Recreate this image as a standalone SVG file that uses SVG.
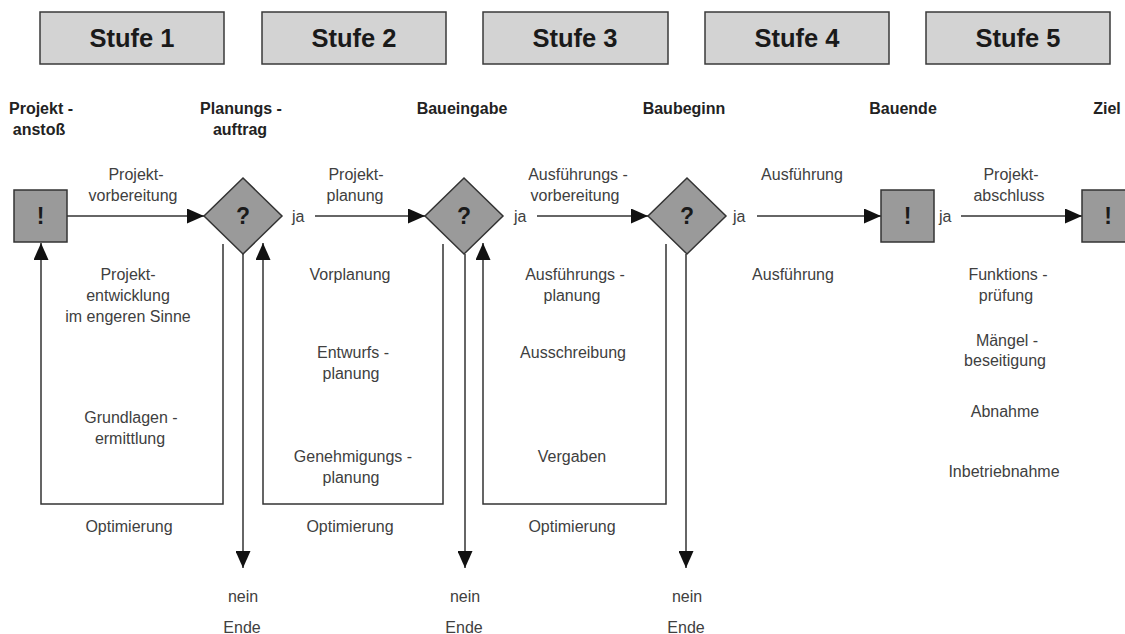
<svg xmlns="http://www.w3.org/2000/svg" width="1125" height="634" viewBox="0 0 1125 634">
  <style>
    .stage { fill: #d3d3d3; stroke: #3a3a3a; stroke-width: 1.5; }
    .stage-label { font-family: "Liberation Sans", Arial, sans-serif; font-size: 25.5px; font-weight: bold; fill: #1a1a1a; text-anchor: middle; }
    .milestone { font-family: "Liberation Sans", Arial, sans-serif; font-size: 16px; font-weight: bold; fill: #222; text-anchor: middle; }
    .t { font-family: "Liberation Sans", Arial, sans-serif; font-size: 16px; fill: #404040; text-anchor: middle; }
    .ja { font-family: "Liberation Sans", Arial, sans-serif; font-size: 16px; fill: #404040; }
    .node { fill: #9a9a9a; stroke: #333; stroke-width: 1.5; }
    .sym { font-family: "Liberation Sans", Arial, sans-serif; font-size: 23px; font-weight: bold; fill: #1a1a1a; text-anchor: middle; }
    .line { fill: none; stroke: #333; stroke-width: 1.5; }
  </style>
  <defs>
    <marker id="arrow" viewBox="0 0 17 15" refX="17" refY="7.5" markerWidth="17" markerHeight="15" markerUnits="userSpaceOnUse" orient="auto">
      <path d="M0,0 L17,7.5 L0,15 Z" fill="#111"/>
    </marker>
  </defs>
  <rect width="1125" height="634" fill="#fff"/>

  <!-- stage headers -->
  <g id="stages">
    <g id="stufe1"><rect class="stage" x="40" y="12" width="184" height="52"/><text class="stage-label" x="132" y="47">Stufe 1</text></g>
    <g id="stufe2"><rect class="stage" x="262" y="12" width="184" height="52"/><text class="stage-label" x="354" y="47">Stufe 2</text></g>
    <g id="stufe3"><rect class="stage" x="483" y="12" width="185" height="52"/><text class="stage-label" x="575" y="47">Stufe 3</text></g>
    <g id="stufe4"><rect class="stage" x="705" y="12" width="184" height="52"/><text class="stage-label" x="797" y="47">Stufe 4</text></g>
    <g id="stufe5"><rect class="stage" x="926" y="12" width="184" height="52"/><text class="stage-label" x="1018" y="47">Stufe 5</text></g>
  </g>

  <!-- milestone labels -->
  <g id="milestones">
    <text class="milestone" x="41" y="114">Projekt -</text>
    <text class="milestone" x="39" y="135">anstoß</text>
    <text class="milestone" x="241" y="114">Planungs -</text>
    <text class="milestone" x="240" y="135">auftrag</text>
    <text class="milestone" x="462" y="114">Baueingabe</text>
    <text class="milestone" x="684" y="114">Baubeginn</text>
    <text class="milestone" x="903" y="114">Bauende</text>
    <text class="milestone" x="1107" y="114">Ziel</text>
  </g>

  <!-- connectors -->
  <g id="connectors">
    <!-- main flow -->
    <line class="line" x1="67" y1="216" x2="204" y2="216" marker-end="url(#arrow)"/>
    <line class="line" x1="315" y1="216" x2="425" y2="216" marker-end="url(#arrow)"/>
    <line class="line" x1="537" y1="216" x2="648" y2="216" marker-end="url(#arrow)"/>
    <line class="line" x1="757" y1="216" x2="881" y2="216" marker-end="url(#arrow)"/>
    <line class="line" x1="961" y1="216" x2="1082" y2="216" marker-end="url(#arrow)"/>
    <!-- optimisation loops -->
    <polyline class="line" points="223,244 223,504 41,504 41,243" marker-end="url(#arrow)"/>
    <polyline class="line" points="443,244 443,504 263,504 263,243" marker-end="url(#arrow)"/>
    <polyline class="line" points="666,244 666,504 483,504 483,243" marker-end="url(#arrow)"/>
    <!-- exits -->
    <line class="line" x1="243" y1="254" x2="243" y2="568" marker-end="url(#arrow)"/>
    <line class="line" x1="465" y1="254" x2="465" y2="568" marker-end="url(#arrow)"/>
    <line class="line" x1="686" y1="254" x2="686" y2="568" marker-end="url(#arrow)"/>
  </g>

  <!-- nodes -->
  <g id="start">
    <rect class="node" x="14" y="190" width="53" height="52"/>
    <text class="sym" x="40.5" y="224">!</text>
  </g>
  <g id="decision1">
    <polygon class="node" points="243,178 282,216 243,254 204,216"/>
    <text class="sym" x="243" y="224">?</text>
  </g>
  <g id="decision2">
    <polygon class="node" points="464,178 503,216 464,254 425,216"/>
    <text class="sym" x="464" y="224">?</text>
  </g>
  <g id="decision3">
    <polygon class="node" points="687,178 726,216 687,254 648,216"/>
    <text class="sym" x="687" y="224">?</text>
  </g>
  <g id="bauende">
    <rect class="node" x="881" y="190" width="53" height="52"/>
    <text class="sym" x="907.5" y="224">!</text>
  </g>
  <g id="ziel">
    <rect class="node" x="1082" y="190" width="53" height="52"/>
    <text class="sym" x="1108" y="224">!</text>
  </g>

  <!-- yes labels -->
  <g id="ja-labels">
    <text class="ja" x="292" y="222">ja</text>
    <text class="ja" x="514" y="222">ja</text>
    <text class="ja" x="733" y="222">ja</text>
    <text class="ja" x="939" y="222">ja</text>
  </g>

  <!-- stage 1 texts -->
  <g id="texts-stufe1">
    <text class="t" x="136" y="180">Projekt-</text>
    <text class="t" x="133" y="201">vorbereitung</text>
    <text class="t" x="128" y="280">Projekt-</text>
    <text class="t" x="128" y="301">entwicklung</text>
    <text class="t" x="128" y="322">im engeren Sinne</text>
    <text class="t" x="131" y="423">Grundlagen -</text>
    <text class="t" x="130" y="444">ermittlung</text>
    <text class="t" x="129" y="532">Optimierung</text>
    <text class="t" x="243" y="602">nein</text>
    <text class="t" x="242" y="633">Ende</text>
  </g>

  <!-- stage 2 texts -->
  <g id="texts-stufe2">
    <text class="t" x="356" y="180">Projekt-</text>
    <text class="t" x="355" y="201">planung</text>
    <text class="t" x="350" y="280">Vorplanung</text>
    <text class="t" x="353" y="358">Entwurfs -</text>
    <text class="t" x="351" y="379">planung</text>
    <text class="t" x="353" y="462">Genehmigungs -</text>
    <text class="t" x="351" y="483">planung</text>
    <text class="t" x="350" y="532">Optimierung</text>
    <text class="t" x="465" y="602">nein</text>
    <text class="t" x="464" y="633">Ende</text>
  </g>

  <!-- stage 3 texts -->
  <g id="texts-stufe3">
    <text class="t" x="578" y="180">Ausführungs -</text>
    <text class="t" x="575" y="201">vorbereitung</text>
    <text class="t" x="575" y="280">Ausführungs -</text>
    <text class="t" x="572" y="301">planung</text>
    <text class="t" x="573" y="358">Ausschreibung</text>
    <text class="t" x="572" y="462">Vergaben</text>
    <text class="t" x="572" y="532">Optimierung</text>
    <text class="t" x="687" y="602">nein</text>
    <text class="t" x="686" y="633">Ende</text>
  </g>

  <!-- stage 4 texts -->
  <g id="texts-stufe4">
    <text class="t" x="802" y="180">Ausführung</text>
    <text class="t" x="793" y="280">Ausführung</text>
  </g>

  <!-- stage 5 texts -->
  <g id="texts-stufe5">
    <text class="t" x="1011" y="180">Projekt-</text>
    <text class="t" x="1009" y="201">abschluss</text>
    <text class="t" x="1008" y="280">Funktions -</text>
    <text class="t" x="1006" y="301">prüfung</text>
    <text class="t" x="1007" y="346">Mängel -</text>
    <text class="t" x="1005" y="366">beseitigung</text>
    <text class="t" x="1005" y="417">Abnahme</text>
    <text class="t" x="1004" y="477">Inbetriebnahme</text>
  </g>
</svg>
